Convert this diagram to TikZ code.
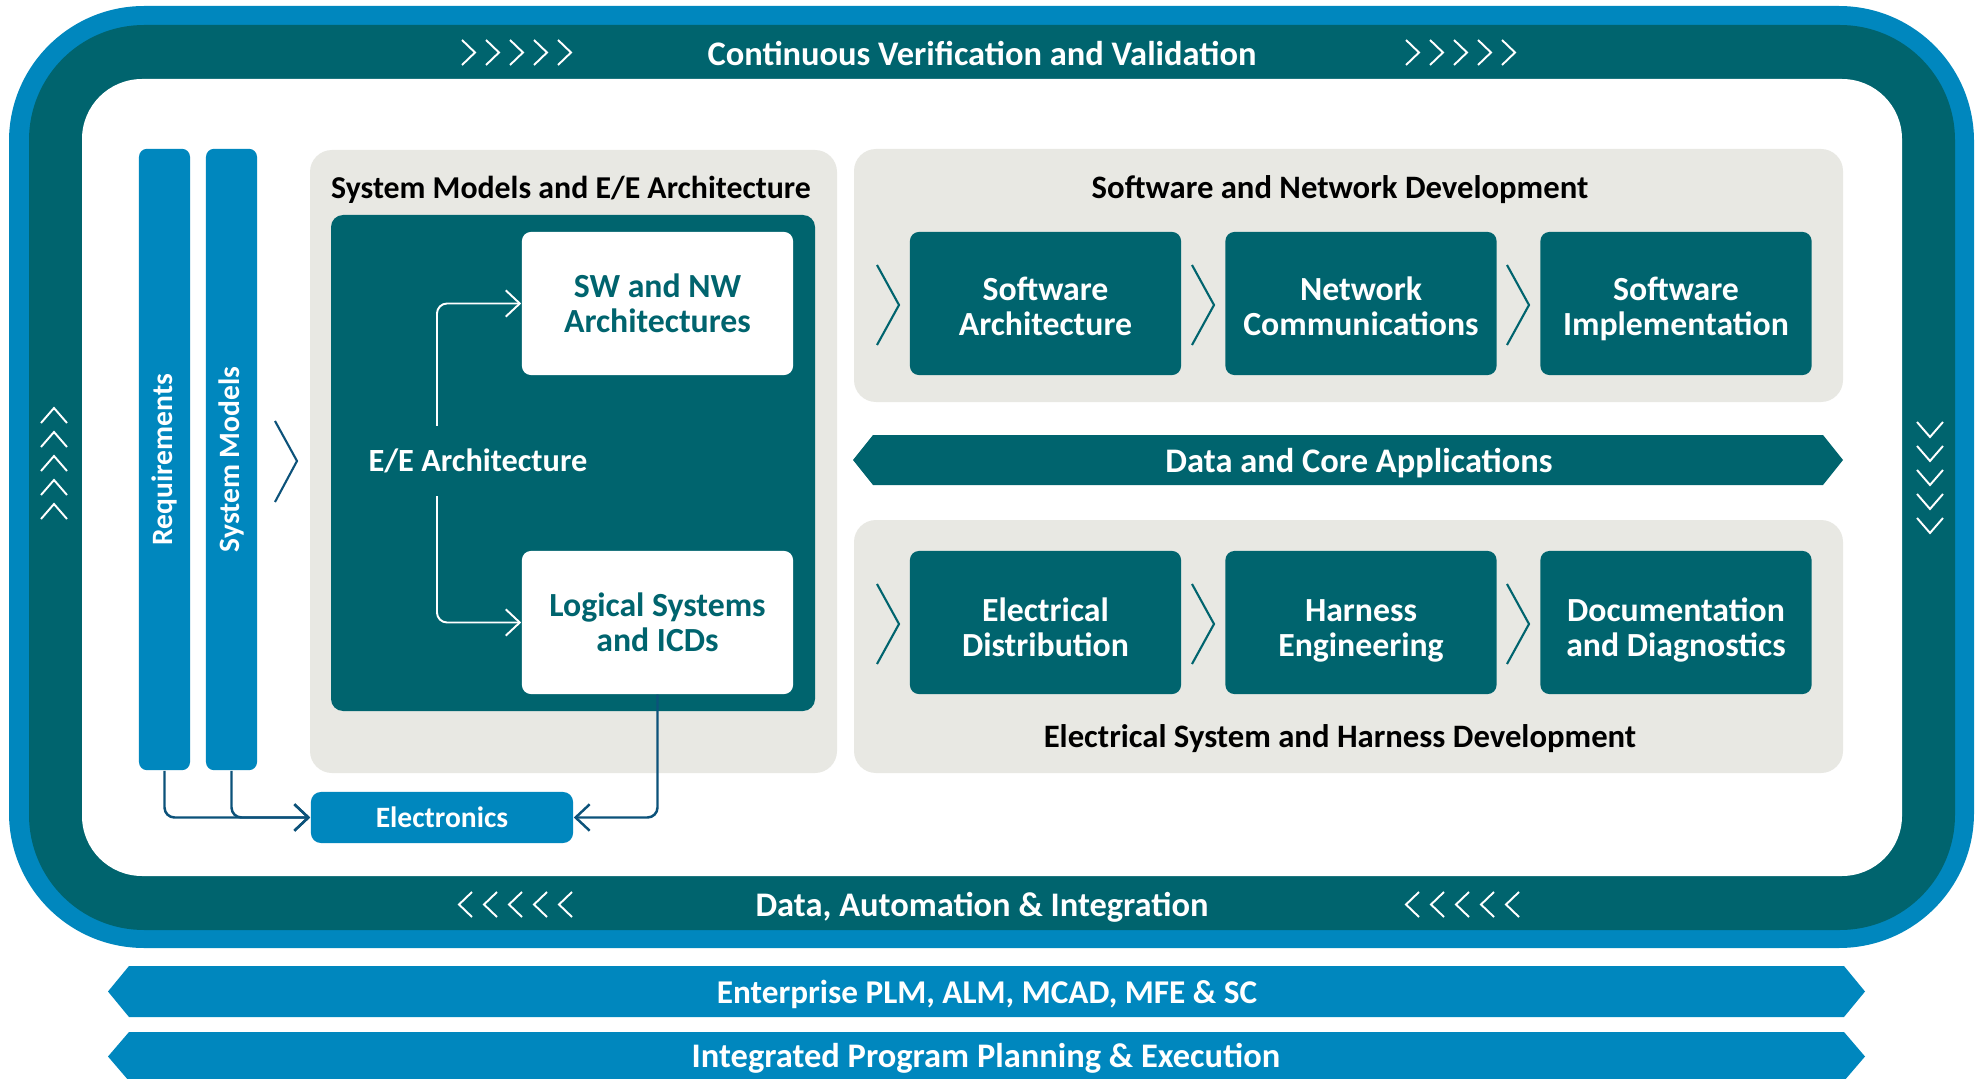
\documentclass[tikz,border=0pt]{standalone}
\usepackage{fontspec}
\setmainfont{Carlito}
\usetikzlibrary{arrows.meta}

\definecolor{petrol}{RGB}{0,100,110}
\definecolor{siemensblue}{RGB}{0,135,190}
\definecolor{panelgray}{RGB}{232,232,227}
\definecolor{linknavy}{RGB}{12,82,122}

% taller first line, sets the text a little lower in its box
\newcommand{\lowline}[1][9.6pt]{\rule{0pt}{#1}}

\tikzset{
  panel/.style={fill=panelgray, rounded corners=2.2mm},
  title/.style={font=\fontsize{9.3}{11}\selectfont\bfseries, inner sep=0pt,
    text height=6pt, text depth=0pt},
  bandtext/.style={text=white, font=\fontsize{9.8}{11}\selectfont\bfseries, inner sep=0pt,
    text height=6.3pt, text depth=0pt},
  bandchev/.style={white, line width=0.55pt},
  tealbox/.style={fill=petrol, text=white, rounded corners=0.9mm, align=center,
    minimum width=2.71cm, minimum height=1.43cm, inner sep=0pt, text depth=0pt,
    font=\fontsize{9.6}{10}\selectfont\bfseries},
  whitebox/.style={tealbox, fill=white, text=petrol},
  bluebar/.style={fill=siemensblue, rounded corners=0.8mm, minimum width=0.51cm,
    minimum height=6.21cm, inner sep=0pt},
  bartext/.style={rotate=90, text=white, font=\fontsize{8.4}{10}\selectfont\bfseries},
  panelchev/.style={petrol, line width=0.6pt},
  link/.style={linknavy, line width=0.7pt, rounded corners=1mm,
    -{Straight Barb[length=4pt,width=7.5pt]}},
  eelink/.style={link, white, line width=0.55pt}
}

\begin{document}
\begin{tikzpicture}[x=0.01cm, y=-0.01cm]
\useasboundingbox (0,0) rectangle (1981,1079);

% frame and bands
\fill[siemensblue, rounded corners=13.5mm] (9,6) rectangle (1974,948);
\fill[petrol, rounded corners=11.5mm] (29,25) rectangle (1955,930);
\fill[white, rounded corners=6mm] (82,79) rectangle (1902,876);

\node[bandtext] (cvv) at (982,54) {Continuous Verification and Validation};
\node[bandtext] (dai) at (982,905) {Data, Automation \& Integration};

\foreach \x in {462,1406}
  \foreach \k in {0,...,4}
    \draw[bandchev] (\x+24*\k,40) -- (\x+24*\k+13,52.5) -- (\x+24*\k,65);
\foreach \x in {459,1406}
  \foreach \k in {0,...,4}
    \draw[bandchev] (\x+25*\k+13,892) -- (\x+25*\k,904.5) -- (\x+25*\k+13,917);
\foreach \k in {0,...,4} {
  \draw[bandchev] (41,423+24*\k) -- (54,408+24*\k) -- (67,423+24*\k);
  \draw[bandchev] (1917,422+24*\k) -- (1930,437+24*\k) -- (1943,422+24*\k);
}

% requirements and system models
\node[bluebar] (req) at (164.5,459.5) {};
\node[bartext] at (req) {Requirements};
\node[bluebar] (sysmod) at (231.5,459.5) {};
\node[bartext] at (sysmod) {System Models};
\draw[linknavy, line width=0.6pt] (275,421) -- (297,461) -- (275,502);

% system models and E/E architecture
\fill[panel] (310,150) rectangle (837,773);
\node[title, font=\fontsize{9.05}{11}\selectfont\bfseries] (smtitle) at (571,188)
  {System Models and E/E Architecture};
\fill[petrol, rounded corners=1.2mm] (331,215) rectangle (815,711);
\node[whitebox] (swnw) at (657.5,303.5) {SW and NW\\Architectures};
\node[whitebox] (logsys) at (657.5,622.5) {Logical Systems\\and ICDs};
\node[text=white, font=\fontsize{9.2}{11}\selectfont\bfseries,
  minimum height=0.69cm, inner sep=0pt] (eearch) at (478,461) {E/E Architecture};
\draw[eelink] ([xshift=-4.1mm]eearch.north) |- (swnw.west);
\draw[eelink] ([xshift=-4.1mm]eearch.south) |- (logsys.west);

\node[fill=siemensblue, text=white, rounded corners=1mm, minimum width=2.62cm,
  minimum height=0.51cm, inner sep=0pt, font=\fontsize{8.4}{10}\selectfont\bfseries]
  (elec) at (442,817.5) {Electronics};
\draw[link] (req.south) |- (elec.west);
\draw[link] (sysmod.south) |- (elec.west);
\draw[link] (logsys.south) |- (elec.east);

% software and network development
\fill[panel] (854,149) rectangle (1843,402);
\node[title] (swtitle) at (1340,188) {Software and Network Development};
\node[tealbox] (swarch) at (1045.5,303.5) {\lowline[8.3pt]Software\\Architecture};
\node[tealbox] (netcom) at (1361,303.5) {\lowline[8.3pt]Network\\Communications};
\node[tealbox] (swimpl) at (1676,303.5) {\lowline[8.3pt]Software\\Implementation};

% data and core applications
\fill[petrol] (853,460) -- (873,435) -- (1823,435) -- (1843,460)
  -- (1823,485) -- (873,485) -- cycle;
\node[bandtext] (datacore) at (1359,461) {Data and Core Applications};

% electrical system and harness development
\fill[panel] (854,520) rectangle (1843,773);
\node[title] (eltitle) at (1340,737) {Electrical System and Harness Development};
\node[tealbox] (eldist) at (1045.5,622.5) {\lowline Electrical\\Distribution};
\node[tealbox] (harness) at (1361,622.5) {\lowline Harness\\Engineering};
\node[tealbox] (docdiag) at (1676,622.5) {\lowline Documentation\\and Diagnostics};

\foreach \cx in {888,1203,1518}
  \foreach \cy in {305,624}
    \draw[panelchev] (\cx-11,\cy-40) -- (\cx+11,\cy) -- (\cx-11,\cy+40);

% enterprise bars
\fill[siemensblue] (108,991.5) -- (129,966) -- (1844,966) -- (1865,991.5)
  -- (1844,1017) -- (129,1017) -- cycle;
\node[bandtext, font=\fontsize{9.45}{11}\selectfont\bfseries] (plm) at (987,992)
  {Enterprise PLM, ALM, MCAD, MFE \& SC};
\fill[siemensblue] (108,1056.5) -- (129,1032) -- (1844,1032) -- (1865,1056.5)
  -- (1844,1081) -- (129,1081) -- cycle;
\node[bandtext] (ipp) at (986,1056) {Integrated Program Planning \& Execution};
\end{tikzpicture}
\end{document}
